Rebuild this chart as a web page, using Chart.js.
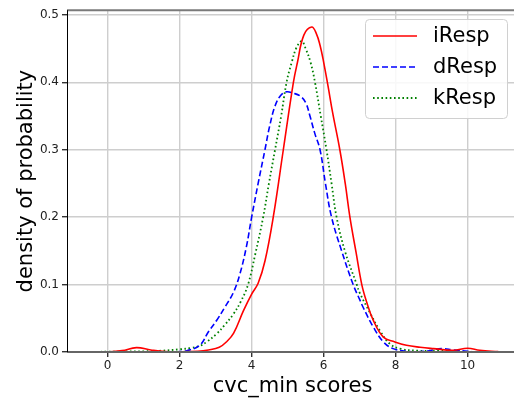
<!DOCTYPE html>
<html>
<head>
<meta charset="utf-8">
<script src="https://cdn.jsdelivr.net/npm/chart.js@4.4.1/dist/chart.umd.min.js"></script>
<style>
  html, body { margin: 0; padding: 0; background: #fff; overflow: hidden; }
  #wrap { width: 514px; height: 400px; overflow: hidden; }
</style>
</head>
<body>
<div id="wrap"><canvas id="myChart" width="520" height="400"></canvas></div>
<script>
  // values
  const iRespX = [0, 0.4, 0.8, 1.2, 1.6, 2.0, 2.5, 2.8, 3.1, 3.3, 3.5, 3.77, 4.0, 4.18, 4.37, 4.6, 4.88, 5.16, 5.27, 5.45, 5.67, 5.8, 5.9, 6.0, 6.12, 6.25, 6.45, 6.6, 6.73, 6.9, 7.06, 7.19, 7.38, 7.66, 7.98, 8.3, 8.68, 9.05, 9.6, 10.0, 10.34, 10.85];
  const iRespY = [0, 0.002, 0.0065, 0.003, 0.0005, 0.0002, 0.001, 0.003, 0.007, 0.015, 0.028, 0.061, 0.086, 0.102, 0.135, 0.2, 0.3, 0.4, 0.429, 0.47, 0.482, 0.472, 0.455, 0.43, 0.395, 0.355, 0.3, 0.25, 0.2, 0.148, 0.1, 0.075, 0.047, 0.022, 0.015, 0.01, 0.007, 0.005, 0.0025, 0.0055, 0.0025, 0.0005];

  const dRespX = [1.9, 2.2, 2.56, 2.8, 3.03, 3.25, 3.49, 3.67, 3.85, 4.0, 4.18, 4.37, 4.5, 4.65, 4.8, 4.97, 5.15, 5.34, 5.5, 5.62, 5.75, 5.9, 6.05, 6.22, 6.5, 6.82, 7.0, 7.1, 7.38, 7.66, 7.93, 8.3, 8.8, 9.28, 9.6, 10.0, 10.25];
  const dRespY = [0, 0.002, 0.01, 0.03, 0.047, 0.066, 0.088, 0.115, 0.155, 0.2, 0.25, 0.3, 0.335, 0.365, 0.38, 0.386, 0.384, 0.38, 0.37, 0.35, 0.325, 0.3, 0.25, 0.2, 0.15, 0.1, 0.078, 0.066, 0.037, 0.015, 0.005, 0.001, 0.001, 0.005, 0.003, 0.001, 0];

  const kRespX = [-0.55, 0, 0.5, 1.0, 1.5, 2.0, 2.3, 2.56, 2.75, 3.03, 3.25, 3.49, 3.7, 3.9, 4.1, 4.32, 4.48, 4.65, 4.82, 4.97, 5.11, 5.25, 5.39, 5.5, 5.64, 5.76, 5.92, 6.08, 6.22, 6.36, 6.59, 6.92, 7.0, 7.29, 7.56, 7.84, 8.12, 8.6, 9.2, 9.7, 10.15];
  const kRespY = [0, 0.0005, 0.0008, 0.001, 0.002, 0.004, 0.006, 0.009, 0.015, 0.027, 0.04, 0.056, 0.075, 0.1, 0.145, 0.2, 0.25, 0.3, 0.35, 0.4, 0.429, 0.452, 0.461, 0.45, 0.429, 0.4, 0.35, 0.3, 0.25, 0.2, 0.15, 0.1, 0.088, 0.058, 0.032, 0.012, 0.005, 0.002, 0.002, 0.001, 0];

  const xTicks = [0, 2, 4, 6, 8, 10];
  const yTicks = [0.0, 0.1, 0.2, 0.3, 0.4, 0.5];

  function pts(xs, ys) {
    return xs.map((x, i) => ({ x: x, y: ys[i] }));
  }

  const FONT = "'DejaVu Sans', sans-serif";

  // matplotlib-like frame + legend box
  const framePlugin = {
    id: 'frame',
    afterDraw(chart) {
      const ctx = chart.ctx;
      const a = chart.chartArea;
      ctx.save();
      ctx.lineCap = 'butt';
      ctx.setLineDash([]);
      ctx.strokeStyle = '#7a7a7a';
      ctx.lineWidth = 2;
      ctx.beginPath();
      ctx.moveTo(a.left, a.top);
      ctx.lineTo(a.right, a.top);
      ctx.stroke();
      ctx.strokeStyle = '#666';
      ctx.beginPath();
      ctx.moveTo(a.left, a.bottom);
      ctx.lineTo(a.right, a.bottom);
      ctx.stroke();
      ctx.strokeStyle = '#000';
      ctx.lineWidth = 1;
      ctx.beginPath();
      ctx.moveTo(a.left + 0.5, a.top);
      ctx.lineTo(a.left + 0.5, a.bottom);
      ctx.stroke();

      // legend
      const bx = 365, by = 19, bw = 142, bh = 99, r = 4;
      ctx.fillStyle = 'rgba(255,255,255,0.85)';
      ctx.strokeStyle = '#d0d0d0';
      ctx.lineWidth = 1;
      ctx.beginPath();
      ctx.roundRect(bx + 0.5, by + 0.5, bw, bh, r);
      ctx.fill();
      ctx.stroke();
      ctx.font = '21px ' + FONT;
      ctx.textBaseline = 'middle';
      chart.data.datasets.forEach((ds, i) => {
        const y = 36 + i * 31;
        ctx.strokeStyle = ds.borderColor;
        ctx.lineWidth = ds.borderWidth;
        ctx.setLineDash(ds.borderDash || []);
        ctx.beginPath();
        ctx.moveTo(373, y);
        ctx.lineTo(417, y);
        ctx.stroke();
        ctx.setLineDash([]);
        ctx.fillStyle = '#000';
        ctx.fillText(ds.label, 433, y + 1);
      });
      ctx.restore();
    }
  };

  const config = {
    type: 'line',
    data: {
      datasets: [
        {
          label: 'iResp',
          data: pts(iRespX, iRespY),
          borderColor: 'rgb(255, 0, 0)',
          borderWidth: 1.6,
        },
        {
          label: 'dResp',
          data: pts(dRespX, dRespY),
          borderColor: 'rgb(0, 0, 255)',
          borderWidth: 1.6,
          borderDash: [6, 3],
        },
        {
          label: 'kResp',
          data: pts(kRespX, kRespY),
          borderColor: 'rgb(0, 128, 0)',
          borderWidth: 1.8,
          borderDash: [1.6, 2.6],
        },
      ],
    },
    options: {
      responsive: false,
      animation: false,
      layout: { padding: { top: 7.5, right: 2, left: 0, bottom: 0 } },
      elements: {
        point: { radius: 0 },
        line: { tension: 0.4, fill: false },
      },
      plugins: {
        legend: { display: false },
        tooltip: { enabled: false },
      },
      scales: {
        x: {
          type: 'linear',
          min: -1.13,
          max: 11.4,
          afterBuildTicks: (s) => { s.ticks = xTicks.map(v => ({ value: v })); },
          afterFit: (s) => { s.height = 48; },
          grid: { color: '#cecece', lineWidth: 1.4, tickLength: 5, tickColor: '#333' },
          border: { display: false },
          ticks: {
            font: { family: FONT, size: 12 },
            color: '#222',
            padding: 2,
            maxRotation: 0,
            callback: (v) => String(v),
          },
          title: {
            display: true,
            text: 'cvc_min scores',
            font: { family: FONT, size: 21 },
            color: '#000',
            padding: { top: 0, bottom: 1 },
          },
        },
        y: {
          min: 0,
          max: 0.507,
          afterBuildTicks: (s) => { s.ticks = yTicks.map(v => ({ value: v })); },
          afterFit: (s) => { s.width = 67; },
          grid: { color: '#cecece', lineWidth: 1.4, tickLength: 5, tickColor: '#333' },
          border: { display: false },
          ticks: {
            font: { family: FONT, size: 12 },
            color: '#222',
            padding: 3,
            callback: (v) => v.toFixed(1),
          },
          title: {
            display: true,
            text: 'density of probability',
            font: { family: FONT, size: 21 },
            color: '#000',
            padding: { top: 14, bottom: 0 },
          },
        },
      },
    },
    plugins: [framePlugin],
  };

  var myChart = new Chart(document.getElementById('myChart'), config);
</script>
</body>
</html>
